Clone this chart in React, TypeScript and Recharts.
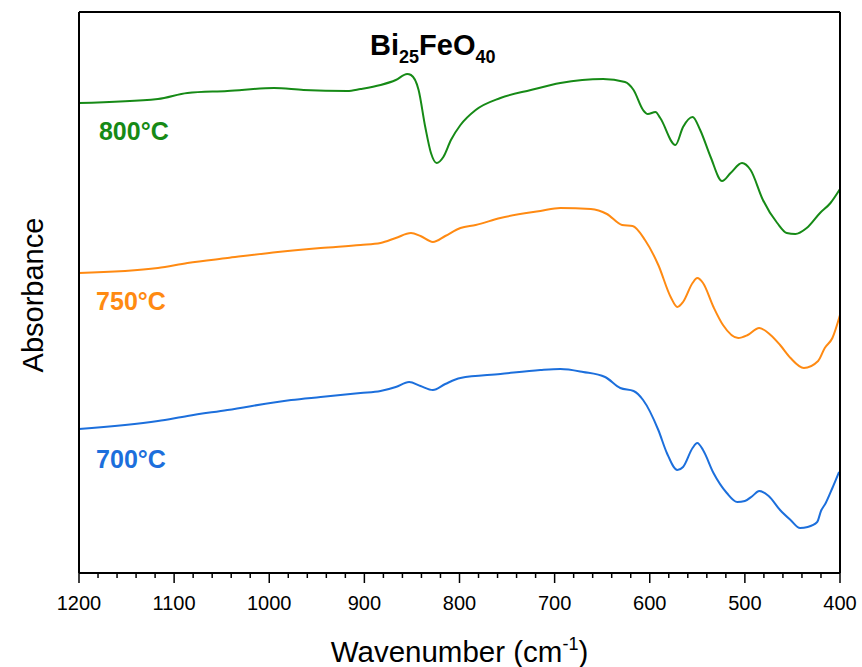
import { LineChart, Line, XAxis, YAxis, ReferenceDot } from "recharts";

// wavenumber (cm-1) / absorbance (a.u., curves offset)
const s800 = [
  { w: 1200, a: 4.70 }, { w: 1117, a: 4.74 }, { w: 1086, a: 4.80 }, { w: 1044, a: 4.82 },
  { w: 995, a: 4.85 }, { w: 964, a: 4.83 }, { w: 918, a: 4.82 }, { w: 904, a: 4.84 },
  { w: 883, a: 4.88 }, { w: 867, a: 4.93 }, { w: 855, a: 4.99 }, { w: 851, a: 4.98 },
  { w: 843, a: 4.83 }, { w: 836, a: 4.46 }, { w: 830, a: 4.20 }, { w: 824, a: 4.10 },
  { w: 817, a: 4.16 }, { w: 809, a: 4.33 }, { w: 799, a: 4.48 }, { w: 783, a: 4.63 },
  { w: 757, a: 4.75 }, { w: 725, a: 4.83 }, { w: 694, a: 4.90 }, { w: 649, a: 4.94 },
  { w: 626, a: 4.91 }, { w: 617, a: 4.83 }, { w: 607, a: 4.63 }, { w: 602, a: 4.59 },
  { w: 594, a: 4.61 }, { w: 589, a: 4.55 }, { w: 573, a: 4.28 }, { w: 565, a: 4.46 },
  { w: 555, a: 4.56 }, { w: 547, a: 4.43 }, { w: 536, a: 4.16 }, { w: 524, a: 3.92 },
  { w: 515, a: 4.00 }, { w: 503, a: 4.10 }, { w: 494, a: 4.03 }, { w: 481, a: 3.73 },
  { w: 466, a: 3.50 }, { w: 456, a: 3.40 }, { w: 447, a: 3.39 }, { w: 435, a: 3.45 },
  { w: 421, a: 3.60 }, { w: 410, a: 3.70 }, { w: 400, a: 3.84 },
];

const s750 = [
  { w: 1200, a: 3.00 }, { w: 1117, a: 3.05 }, { w: 1086, a: 3.10 }, { w: 1044, a: 3.15 },
  { w: 991, a: 3.21 }, { w: 946, a: 3.25 }, { w: 904, a: 3.28 }, { w: 883, a: 3.30 },
  { w: 867, a: 3.35 }, { w: 851, a: 3.40 }, { w: 841, a: 3.37 }, { w: 828, a: 3.31 },
  { w: 815, a: 3.37 }, { w: 799, a: 3.45 }, { w: 783, a: 3.48 }, { w: 757, a: 3.55 },
  { w: 715, a: 3.62 }, { w: 694, a: 3.65 }, { w: 662, a: 3.64 }, { w: 645, a: 3.59 },
  { w: 629, a: 3.48 }, { w: 618, a: 3.47 }, { w: 605, a: 3.33 }, { w: 591, a: 3.08 },
  { w: 578, a: 2.76 }, { w: 571, a: 2.66 }, { w: 565, a: 2.71 }, { w: 555, a: 2.90 },
  { w: 550, a: 2.95 }, { w: 544, a: 2.90 }, { w: 533, a: 2.66 }, { w: 523, a: 2.48 },
  { w: 507, a: 2.35 }, { w: 497, a: 2.38 }, { w: 485, a: 2.45 }, { w: 473, a: 2.38 },
  { w: 463, a: 2.28 }, { w: 452, a: 2.15 }, { w: 438, a: 2.05 }, { w: 423, a: 2.12 },
  { w: 416, a: 2.25 }, { w: 408, a: 2.35 }, { w: 400, a: 2.58 },
];

const s700 = [
  { w: 1200, a: 1.44 }, { w: 1117, a: 1.52 }, { w: 1086, a: 1.57 }, { w: 1044, a: 1.63 },
  { w: 977, a: 1.73 }, { w: 946, a: 1.76 }, { w: 904, a: 1.80 }, { w: 883, a: 1.82 },
  { w: 867, a: 1.86 }, { w: 853, a: 1.91 }, { w: 841, a: 1.87 }, { w: 828, a: 1.83 },
  { w: 815, a: 1.89 }, { w: 799, a: 1.95 }, { w: 757, a: 1.99 }, { w: 715, a: 2.03 },
  { w: 694, a: 2.04 }, { w: 670, a: 2.01 }, { w: 647, a: 1.96 }, { w: 631, a: 1.85 },
  { w: 617, a: 1.82 }, { w: 607, a: 1.73 }, { w: 591, a: 1.43 }, { w: 582, a: 1.20 },
  { w: 571, a: 1.03 }, { w: 565, a: 1.06 }, { w: 555, a: 1.25 }, { w: 550, a: 1.30 },
  { w: 544, a: 1.23 }, { w: 533, a: 1.00 }, { w: 519, a: 0.80 }, { w: 508, a: 0.71 },
  { w: 500, a: 0.72 }, { w: 492, a: 0.77 }, { w: 485, a: 0.82 }, { w: 475, a: 0.77 },
  { w: 463, a: 0.63 }, { w: 452, a: 0.53 }, { w: 442, a: 0.45 }, { w: 434, a: 0.46 },
  { w: 424, a: 0.51 }, { w: 420, a: 0.62 }, { w: 415, a: 0.70 }, { w: 408, a: 0.85 },
  { w: 401, a: 1.01 },
];

// every 20 cm-1; the multiples of 100 get a label and a long tick
const xTicks = [
  1200, 1180, 1160, 1140, 1120, 1100, 1080, 1060, 1040, 1020, 1000,
  980, 960, 940, 920, 900, 880, 860, 840, 820, 800, 780, 760, 740, 720, 700,
  680, 660, 640, 620, 600, 580, 560, 540, 520, 500, 480, 460, 440, 420, 400,
];

const series = [
  { name: "800°C", data: s800, color: "#168a16", lx: 1179, ly: 4.33 },
  { name: "750°C", data: s750, color: "#ff8a12", lx: 1182, ly: 2.63 },
  { name: "700°C", data: s700, color: "#1c6fdc", lx: 1182, ly: 1.05 },
];

const FONT = "'Liberation Sans', Arial, sans-serif";

const XTick = ({ x, y, payload }: any) => {
  const major = payload.value % 100 === 0;
  return (
    <g>
      <line x1={x} x2={x} y1={y} y2={y + (major ? 10 : 5)} stroke="#000" strokeWidth={1.5} />
      {major && (
        <text x={x} y={y + 23} dy="0.71em" textAnchor="middle" fontSize={20} fontFamily={FONT} fill="#000">
          {payload.value}
        </text>
      )}
    </g>
  );
};

export default function App() {
  return (
    <div style={{ position: "absolute", left: 0, top: 0, background: "#fff" }}>
      <LineChart width={862} height={667} margin={{ top: 0, right: 0, bottom: 0, left: 0 }}>
        <XAxis
          xAxisId="top"
          orientation="top"
          type="number"
          dataKey="w"
          domain={[400, 1200]}
          reversed
          height={12}
          tick={false}
          tickLine={false}
          axisLine={{ stroke: "#000", strokeWidth: 2 }}
        />
        <XAxis
          xAxisId="major"
          type="number"
          dataKey="w"
          domain={[400, 1200]}
          reversed
          ticks={xTicks}
          interval={0}
          height={94}
          tickSize={0}
          tickMargin={0}
          tickLine={false}
          axisLine={{ stroke: "#000", strokeWidth: 2 }}
          tick={<XTick />}
          label={{
            position: "insideBottom",
            content: ({ viewBox }: any) => (
              <text
                x={viewBox.x + viewBox.width / 2}
                y={662}
                textAnchor="middle"
                fontSize={29.5}
                fontFamily={FONT}
                fill="#000"
              >
                Wavenumber (cm<tspan fontSize={18} dy={-12}>-1</tspan>
                <tspan dy={12}>)</tspan>
              </text>
            ),
          }}
        />
        <YAxis
          yAxisId="l"
          domain={[0, 5.61]}
          width={79}
          tick={false}
          tickLine={false}
          axisLine={{ stroke: "#000", strokeWidth: 2 }}
          label={{
            position: "insideLeft",
            content: () => (
              <text
                x={43}
                y={295}
                transform="rotate(-90, 43, 295)"
                textAnchor="middle"
                fontSize={29}
                fontFamily={FONT}
                fill="#000"
              >
                Absorbance
              </text>
            ),
          }}
        />
        <YAxis
          yAxisId="r"
          orientation="right"
          domain={[0, 5.61]}
          width={22}
          tick={false}
          tickLine={false}
          axisLine={{ stroke: "#000", strokeWidth: 2 }}
        />
        {series.map((s) => (
          <Line
            key={s.name}
            xAxisId="major"
            yAxisId="l"
            data={s.data}
            dataKey="a"
            type="monotone"
            stroke={s.color}
            strokeWidth={2}
            dot={false}
            isAnimationActive={false}
          />
        ))}
        {series.map((s) => (
          <ReferenceDot
            key={"lab" + s.name}
            xAxisId="major"
            yAxisId="l"
            x={s.lx}
            y={s.ly}
            r={0}
            stroke="none"
            fill="none"
            label={{
              content: ({ viewBox }: any) => (
                <text
                  x={viewBox.x}
                  y={viewBox.y}
                  fontSize={25}
                  fontWeight="bold"
                  fontFamily={FONT}
                  fill={s.color}
                >
                  {s.name}
                </text>
              ),
            }}
          />
        ))}
        <ReferenceDot
          xAxisId="major"
          yAxisId="l"
          x={894}
          y={5.18}
          r={0}
          stroke="none"
          fill="none"
          label={{
            content: ({ viewBox }: any) => (
              <text
                x={viewBox.x}
                y={viewBox.y}
                fontSize={29}
                fontWeight="bold"
                fontFamily={FONT}
                fill="#000"
              >
                Bi<tspan fontSize={18} dy={8}>25</tspan>
                <tspan dy={-8}>FeO</tspan>
                <tspan fontSize={18} dy={8}>40</tspan>
              </text>
            ),
          }}
        />
      </LineChart>
    </div>
  );
}
